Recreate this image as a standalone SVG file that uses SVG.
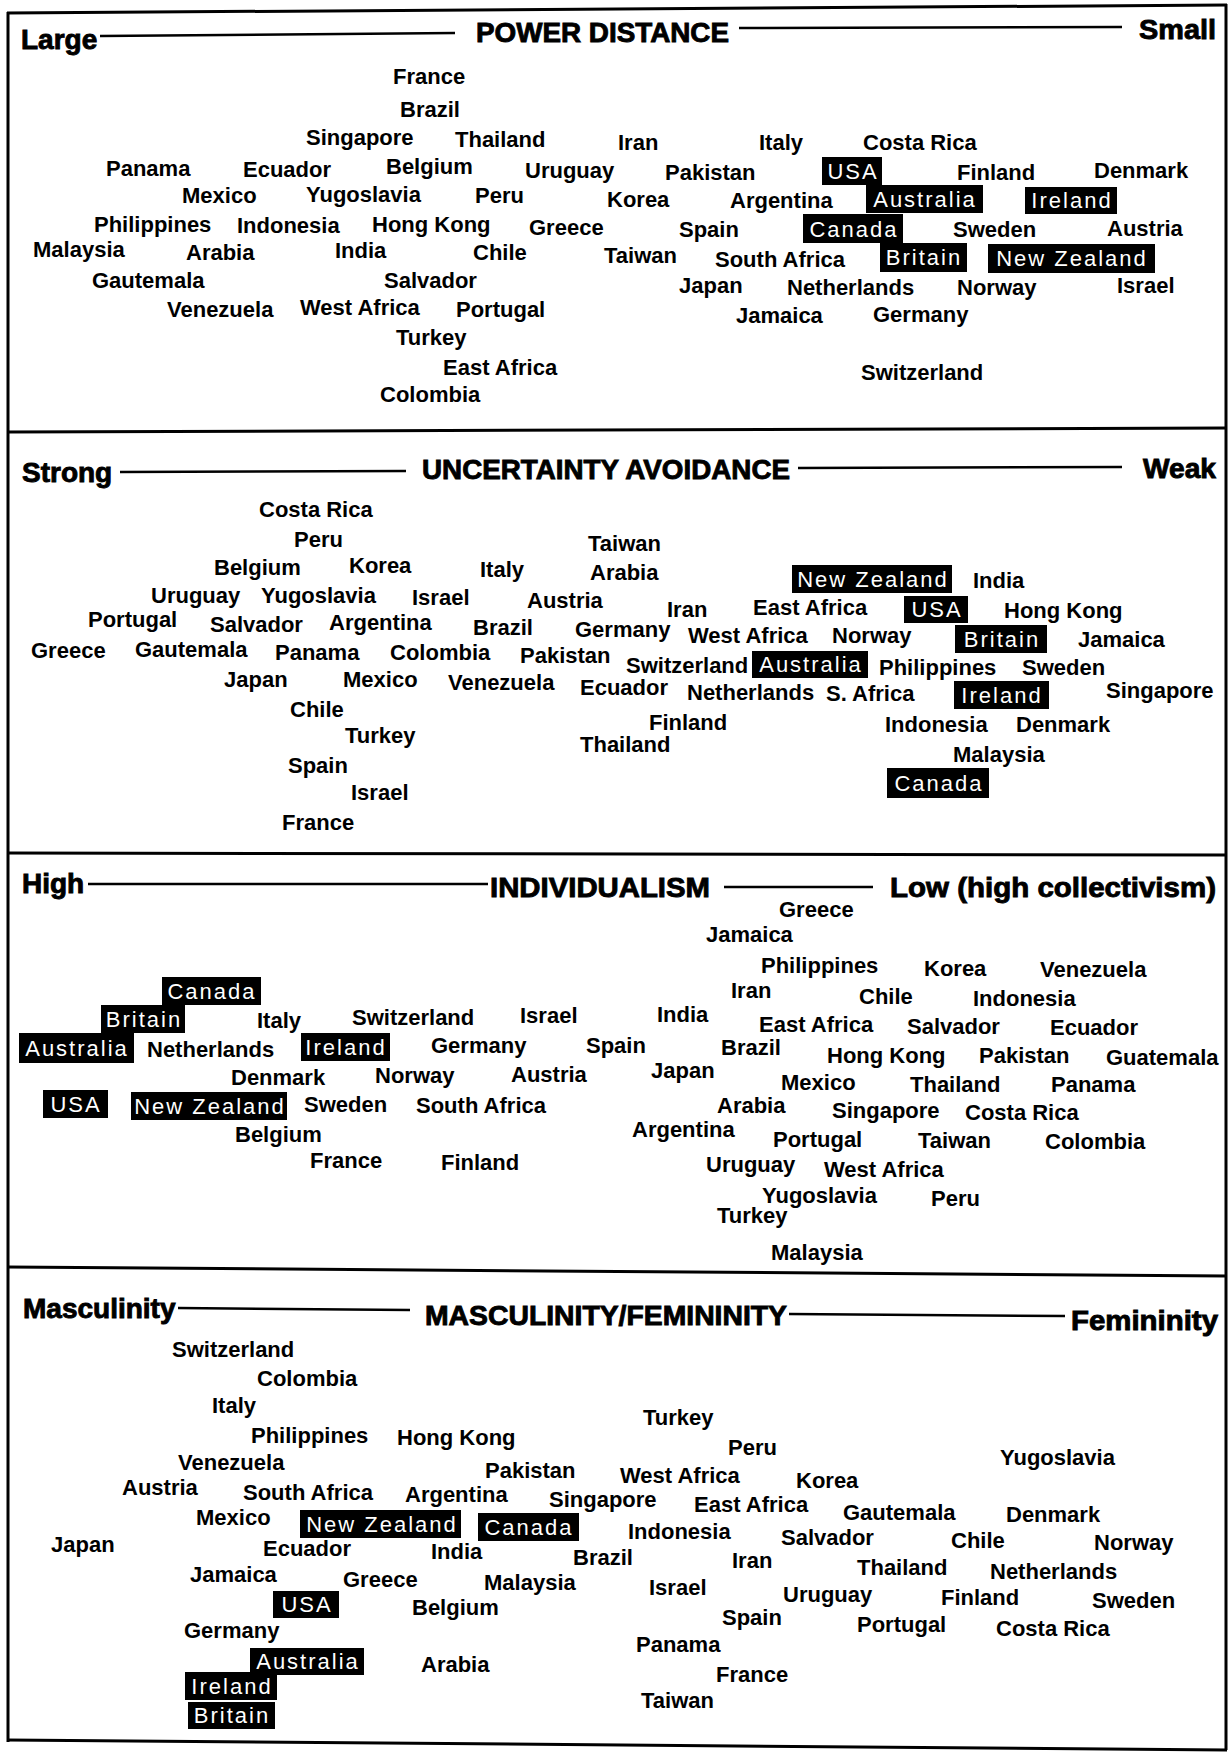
<svg xmlns="http://www.w3.org/2000/svg" width="1229" height="1753" viewBox="0 0 1229 1753">
<style>
.c{font-family:"Liberation Sans",Arial,sans-serif;font-weight:bold;font-size:22px;fill:#000}
.h{font-family:"Liberation Sans",Arial,sans-serif;font-weight:bold;font-size:28px;fill:#000;stroke:#000;stroke-width:0.9}
.b{fill:#000}
.w{font-family:"Liberation Sans",Arial,sans-serif;font-size:22px;fill:#fff;letter-spacing:2px;text-anchor:middle}
.ln{stroke:#000;stroke-width:3;fill:none}
.al{stroke:#000;stroke-width:2.5}
</style>
<rect x="0" y="0" width="1229" height="1753" fill="#fff"/>
<g id="frame">
<line class="ln" x1="7" y1="13" x2="1227" y2="5"/>
<line class="ln" x1="8" y1="12" x2="8" y2="1742"/>
<line class="ln" x1="1226" y1="4" x2="1226" y2="1750"/>
<line class="ln" x1="7" y1="432" x2="1227" y2="428"/>
<line class="ln" x1="7" y1="853" x2="1227" y2="855"/>
<line class="ln" x1="7" y1="1267" x2="1227" y2="1276"/>
<line class="ln" x1="7" y1="1740" x2="1227" y2="1750"/>
</g>

<g id="panel-power-distance">
<text class="h" x="21" y="49">Large</text>
<line class="al" x1="100" y1="36" x2="455" y2="33"/>
<text class="h" x="476" y="42" textLength="253" lengthAdjust="spacingAndGlyphs">POWER DISTANCE</text>
<line class="al" x1="739" y1="28" x2="1122" y2="27"/>
<text class="h" x="1139" y="39" textLength="77" lengthAdjust="spacingAndGlyphs">Small</text>
<text class="c" x="393" y="84">France</text>
<text class="c" x="400" y="117">Brazil</text>
<text class="c" x="306" y="145">Singapore</text>
<text class="c" x="455" y="147">Thailand</text>
<text class="c" x="618" y="150">Iran</text>
<text class="c" x="759" y="150">Italy</text>
<text class="c" x="863" y="150">Costa Rica</text>
<text class="c" x="106" y="176">Panama</text>
<text class="c" x="243" y="177">Ecuador</text>
<text class="c" x="386" y="174">Belgium</text>
<text class="c" x="525" y="178">Uruguay</text>
<text class="c" x="665" y="180">Pakistan</text>
<text class="c" x="957" y="180">Finland</text>
<text class="c" x="1094" y="178">Denmark</text>
<text class="c" x="182" y="203">Mexico</text>
<text class="c" x="306" y="202">Yugoslavia</text>
<text class="c" x="475" y="203">Peru</text>
<text class="c" x="607" y="207">Korea</text>
<text class="c" x="730" y="208">Argentina</text>
<text class="c" x="94" y="232">Philippines</text>
<text class="c" x="237" y="233">Indonesia</text>
<text class="c" x="372" y="232">Hong Kong</text>
<text class="c" x="529" y="235">Greece</text>
<text class="c" x="679" y="237">Spain</text>
<text class="c" x="953" y="237">Sweden</text>
<text class="c" x="1107" y="236">Austria</text>
<text class="c" x="33" y="257">Malaysia</text>
<text class="c" x="186" y="260">Arabia</text>
<text class="c" x="335" y="258">India</text>
<text class="c" x="473" y="260">Chile</text>
<text class="c" x="604" y="263">Taiwan</text>
<text class="c" x="715" y="267">South Africa</text>
<text class="c" x="92" y="288">Gautemala</text>
<text class="c" x="384" y="288">Salvador</text>
<text class="c" x="679" y="293">Japan</text>
<text class="c" x="787" y="295">Netherlands</text>
<text class="c" x="957" y="295">Norway</text>
<text class="c" x="1117" y="293">Israel</text>
<text class="c" x="167" y="317">Venezuela</text>
<text class="c" x="300" y="315">West Africa</text>
<text class="c" x="456" y="317">Portugal</text>
<text class="c" x="736" y="323">Jamaica</text>
<text class="c" x="873" y="322">Germany</text>
<text class="c" x="396" y="345">Turkey</text>
<text class="c" x="443" y="375">East Africa</text>
<text class="c" x="861" y="380">Switzerland</text>
<text class="c" x="380" y="402">Colombia</text>
<rect class="b" x="822" y="157" width="60" height="28"/><text class="w" x="853" y="179">USA</text>
<rect class="b" x="866" y="185" width="117" height="28"/><text class="w" x="925" y="207">Australia</text>
<rect class="b" x="1025" y="187" width="92" height="27"/><text class="w" x="1072" y="208">Ireland</text>
<rect class="b" x="803" y="214" width="100" height="29"/><text class="w" x="854" y="237">Canada</text>
<rect class="b" x="880" y="243" width="87" height="29"/><text class="w" x="924" y="265">Britain</text>
<rect class="b" x="988" y="244" width="167" height="29"/><text class="w" x="1072" y="266">New Zealand</text>
</g>

<g id="panel-uncertainty-avoidance">
<text class="h" x="22" y="482">Strong</text>
<line class="al" x1="120" y1="472" x2="406" y2="471"/>
<text class="h" x="422" y="479" textLength="368" lengthAdjust="spacingAndGlyphs">UNCERTAINTY AVOIDANCE</text>
<line class="al" x1="798" y1="468" x2="1122" y2="467"/>
<text class="h" x="1143" y="478" textLength="73" lengthAdjust="spacingAndGlyphs">Weak</text>
<text class="c" x="259" y="517">Costa Rica</text>
<text class="c" x="294" y="547">Peru</text>
<text class="c" x="588" y="551">Taiwan</text>
<text class="c" x="214" y="575">Belgium</text>
<text class="c" x="349" y="573">Korea</text>
<text class="c" x="480" y="577">Italy</text>
<text class="c" x="590" y="580">Arabia</text>
<text class="c" x="973" y="588">India</text>
<text class="c" x="151" y="603">Uruguay</text>
<text class="c" x="261" y="603">Yugoslavia</text>
<text class="c" x="412" y="605">Israel</text>
<text class="c" x="527" y="608">Austria</text>
<text class="c" x="667" y="617">Iran</text>
<text class="c" x="753" y="615">East Africa</text>
<text class="c" x="1004" y="618">Hong Kong</text>
<text class="c" x="88" y="627">Portugal</text>
<text class="c" x="210" y="632">Salvador</text>
<text class="c" x="329" y="630">Argentina</text>
<text class="c" x="473" y="635">Brazil</text>
<text class="c" x="575" y="637">Germany</text>
<text class="c" x="688" y="643">West Africa</text>
<text class="c" x="832" y="643">Norway</text>
<text class="c" x="1078" y="647">Jamaica</text>
<text class="c" x="31" y="658">Greece</text>
<text class="c" x="135" y="657">Gautemala</text>
<text class="c" x="275" y="660">Panama</text>
<text class="c" x="390" y="660">Colombia</text>
<text class="c" x="520" y="663">Pakistan</text>
<text class="c" x="626" y="673">Switzerland</text>
<text class="c" x="879" y="675">Philippines</text>
<text class="c" x="1022" y="675">Sweden</text>
<text class="c" x="224" y="687">Japan</text>
<text class="c" x="343" y="687">Mexico</text>
<text class="c" x="448" y="690">Venezuela</text>
<text class="c" x="580" y="695">Ecuador</text>
<text class="c" x="687" y="700">Netherlands</text>
<text class="c" x="826" y="701">S. Africa</text>
<text class="c" x="1106" y="698">Singapore</text>
<text class="c" x="290" y="717">Chile</text>
<text class="c" x="649" y="730">Finland</text>
<text class="c" x="885" y="732">Indonesia</text>
<text class="c" x="1016" y="732">Denmark</text>
<text class="c" x="345" y="743">Turkey</text>
<text class="c" x="580" y="752">Thailand</text>
<text class="c" x="953" y="762">Malaysia</text>
<text class="c" x="288" y="773">Spain</text>
<text class="c" x="351" y="800">Israel</text>
<text class="c" x="282" y="830">France</text>
<rect class="b" x="792" y="565" width="160" height="28"/><text class="w" x="873" y="587">New Zealand</text>
<rect class="b" x="904" y="596" width="64" height="27"/><text class="w" x="937" y="617">USA</text>
<rect class="b" x="955" y="625" width="92" height="28"/><text class="w" x="1002" y="647">Britain</text>
<rect class="b" x="752" y="651" width="116" height="27"/><text class="w" x="811" y="672">Australia</text>
<rect class="b" x="954" y="681" width="95" height="28"/><text class="w" x="1002" y="703">Ireland</text>
<rect class="b" x="887" y="768" width="102" height="30"/><text class="w" x="939" y="791">Canada</text>
</g>

<g id="panel-individualism">
<text class="h" x="22" y="893">High</text>
<line class="al" x1="88" y1="884" x2="488" y2="884"/>
<text class="h" x="490" y="897" textLength="220" lengthAdjust="spacingAndGlyphs">INDIVIDUALISM</text>
<line class="al" x1="724" y1="887" x2="873" y2="887"/>
<text class="h" x="890" y="897" textLength="326" lengthAdjust="spacingAndGlyphs">Low (high collectivism)</text>
<text class="c" x="779" y="917">Greece</text>
<text class="c" x="706" y="942">Jamaica</text>
<text class="c" x="761" y="973">Philippines</text>
<text class="c" x="924" y="976">Korea</text>
<text class="c" x="1040" y="977">Venezuela</text>
<text class="c" x="731" y="998">Iran</text>
<text class="c" x="859" y="1004">Chile</text>
<text class="c" x="973" y="1006">Indonesia</text>
<text class="c" x="257" y="1028">Italy</text>
<text class="c" x="352" y="1025">Switzerland</text>
<text class="c" x="520" y="1023">Israel</text>
<text class="c" x="657" y="1022">India</text>
<text class="c" x="759" y="1032">East Africa</text>
<text class="c" x="907" y="1034">Salvador</text>
<text class="c" x="1050" y="1035">Ecuador</text>
<text class="c" x="147" y="1057">Netherlands</text>
<text class="c" x="431" y="1053">Germany</text>
<text class="c" x="586" y="1053">Spain</text>
<text class="c" x="721" y="1055">Brazil</text>
<text class="c" x="827" y="1063">Hong Kong</text>
<text class="c" x="979" y="1063">Pakistan</text>
<text class="c" x="1106" y="1065">Guatemala</text>
<text class="c" x="231" y="1085">Denmark</text>
<text class="c" x="375" y="1083">Norway</text>
<text class="c" x="511" y="1082">Austria</text>
<text class="c" x="651" y="1078">Japan</text>
<text class="c" x="781" y="1090">Mexico</text>
<text class="c" x="910" y="1092">Thailand</text>
<text class="c" x="1051" y="1092">Panama</text>
<text class="c" x="304" y="1112">Sweden</text>
<text class="c" x="416" y="1113">South Africa</text>
<text class="c" x="717" y="1113">Arabia</text>
<text class="c" x="832" y="1118">Singapore</text>
<text class="c" x="965" y="1120">Costa Rica</text>
<text class="c" x="235" y="1142">Belgium</text>
<text class="c" x="632" y="1137">Argentina</text>
<text class="c" x="773" y="1147">Portugal</text>
<text class="c" x="918" y="1148">Taiwan</text>
<text class="c" x="1045" y="1149">Colombia</text>
<text class="c" x="310" y="1168">France</text>
<text class="c" x="441" y="1170">Finland</text>
<text class="c" x="706" y="1172">Uruguay</text>
<text class="c" x="824" y="1177">West Africa</text>
<text class="c" x="762" y="1203">Yugoslavia</text>
<text class="c" x="931" y="1206">Peru</text>
<text class="c" x="717" y="1223">Turkey</text>
<text class="c" x="771" y="1260">Malaysia</text>
<rect class="b" x="162" y="977" width="99" height="28"/><text class="w" x="212" y="999">Canada</text>
<rect class="b" x="101" y="1005" width="84" height="28"/><text class="w" x="144" y="1027">Britain</text>
<rect class="b" x="19" y="1033" width="115" height="30"/><text class="w" x="77" y="1056">Australia</text>
<rect class="b" x="301" y="1033" width="89" height="28"/><text class="w" x="346" y="1055">Ireland</text>
<rect class="b" x="43" y="1090" width="65" height="28"/><text class="w" x="76" y="1112">USA</text>
<rect class="b" x="131" y="1092" width="156" height="28"/><text class="w" x="210" y="1114">New Zealand</text>
</g>

<g id="panel-masculinity-femininity">
<text class="h" x="23" y="1318">Masculinity</text>
<line class="al" x1="178" y1="1308" x2="410" y2="1310"/>
<text class="h" x="425" y="1325" textLength="362" lengthAdjust="spacingAndGlyphs">MASCULINITY/FEMININITY</text>
<line class="al" x1="789" y1="1314" x2="1065" y2="1316"/>
<text class="h" x="1071" y="1330" textLength="147" lengthAdjust="spacingAndGlyphs">Femininity</text>
<text class="c" x="172" y="1357">Switzerland</text>
<text class="c" x="257" y="1386">Colombia</text>
<text class="c" x="212" y="1413">Italy</text>
<text class="c" x="643" y="1425">Turkey</text>
<text class="c" x="251" y="1443">Philippines</text>
<text class="c" x="397" y="1445">Hong Kong</text>
<text class="c" x="728" y="1455">Peru</text>
<text class="c" x="1000" y="1465">Yugoslavia</text>
<text class="c" x="178" y="1470">Venezuela</text>
<text class="c" x="485" y="1478">Pakistan</text>
<text class="c" x="620" y="1483">West Africa</text>
<text class="c" x="796" y="1488">Korea</text>
<text class="c" x="122" y="1495">Austria</text>
<text class="c" x="243" y="1500">South Africa</text>
<text class="c" x="405" y="1502">Argentina</text>
<text class="c" x="549" y="1507">Singapore</text>
<text class="c" x="694" y="1512">East Africa</text>
<text class="c" x="843" y="1520">Gautemala</text>
<text class="c" x="1006" y="1522">Denmark</text>
<text class="c" x="196" y="1525">Mexico</text>
<text class="c" x="628" y="1539">Indonesia</text>
<text class="c" x="781" y="1545">Salvador</text>
<text class="c" x="951" y="1548">Chile</text>
<text class="c" x="1094" y="1550">Norway</text>
<text class="c" x="51" y="1552">Japan</text>
<text class="c" x="263" y="1556">Ecuador</text>
<text class="c" x="431" y="1559">India</text>
<text class="c" x="573" y="1565">Brazil</text>
<text class="c" x="732" y="1568">Iran</text>
<text class="c" x="857" y="1575">Thailand</text>
<text class="c" x="990" y="1579">Netherlands</text>
<text class="c" x="190" y="1582">Jamaica</text>
<text class="c" x="343" y="1587">Greece</text>
<text class="c" x="484" y="1590">Malaysia</text>
<text class="c" x="649" y="1595">Israel</text>
<text class="c" x="783" y="1602">Uruguay</text>
<text class="c" x="941" y="1605">Finland</text>
<text class="c" x="1092" y="1608">Sweden</text>
<text class="c" x="412" y="1615">Belgium</text>
<text class="c" x="722" y="1625">Spain</text>
<text class="c" x="857" y="1632">Portugal</text>
<text class="c" x="996" y="1636">Costa Rica</text>
<text class="c" x="184" y="1638">Germany</text>
<text class="c" x="636" y="1652">Panama</text>
<text class="c" x="421" y="1672">Arabia</text>
<text class="c" x="716" y="1682">France</text>
<text class="c" x="641" y="1708">Taiwan</text>
<rect class="b" x="300" y="1510" width="161" height="28"/><text class="w" x="382" y="1532">New Zealand</text>
<rect class="b" x="478" y="1513" width="101" height="28"/><text class="w" x="529" y="1535">Canada</text>
<rect class="b" x="273" y="1591" width="66" height="27"/><text class="w" x="307" y="1612">USA</text>
<rect class="b" x="250" y="1648" width="114" height="27"/><text class="w" x="308" y="1669">Australia</text>
<rect class="b" x="185" y="1672" width="92" height="28"/><text class="w" x="232" y="1694">Ireland</text>
<rect class="b" x="188" y="1702" width="87" height="27"/><text class="w" x="232" y="1723">Britain</text>
</g>
</svg>
